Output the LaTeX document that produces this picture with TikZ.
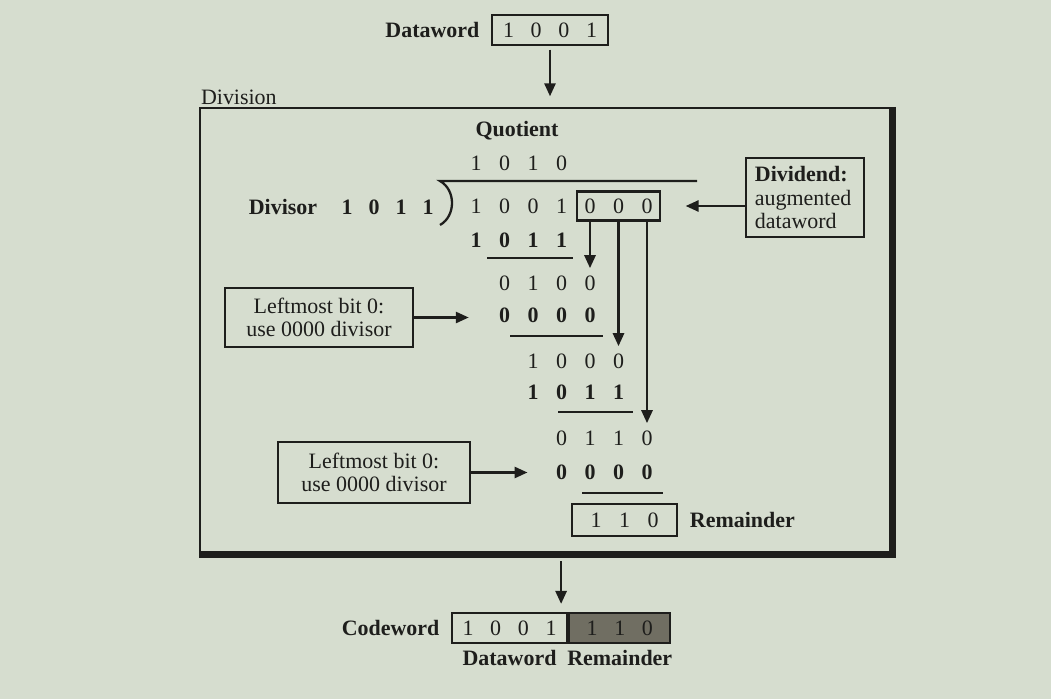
\documentclass[tikz,border=0pt]{standalone}
\usepackage{fontspec}
\setmainfont{Liberation Serif}
\usetikzlibrary{arrows.meta, positioning, calc, fit}
\definecolor{paper}{RGB}{214,221,207}
\definecolor{ink}{RGB}{30,30,28}
\definecolor{remfill}{RGB}{112,110,98}
\newcommand{\bgap}{\hspace{9.5pt}}

\begin{document}
\begin{tikzpicture}[
    x=0.02cm, y=-0.02cm,
    >={Triangle[length=2.6mm, width=2.2mm]},
    every node/.style={text=ink},
    arr/.style={->, draw=ink, line width=1.5pt},
    rule/.style={draw=ink, line width=1.3pt},
    lbl/.style={font=\fontsize{12.5}{13.5}\selectfont},
    blbl/.style={font=\fontsize{12.5}{13.5}\selectfont\bfseries},
    dig/.style={lbl, inner sep=2pt},
    bdig/.style={blbl, inner sep=2pt},
    note/.style={draw=ink, line width=1.3pt, lbl, align=center, inner sep=0pt},
    wordbox/.style={draw=ink, line width=1.3pt, lbl, inner sep=0pt, minimum height=0.6cm},
]
% === paper ===
\fill[paper] (0,0) rectangle (1051,699);
% === Dataword in ===
\node[wordbox, minimum width=2.32cm] (dw) at (550,30) {1\bgap0\bgap0\bgap1};
\node[blbl, left=3pt of dw] (dwlbl) {Dataword};
%
\node[draw=ink, line width=1.3pt, minimum width=13.8cm, minimum height=8.88cm] (div) at (545,330) {};
\draw[draw=ink, line width=3.4pt] ([xshift=1.2pt]div.north east) -- ([xshift=1.2pt, yshift=-1.2pt]div.south east) -- ([yshift=-1.2pt]div.south west);
\node[lbl, anchor=south west, inner sep=1pt] (divlbl) at (div.north west) {Division};
\draw[arr, shorten <=2pt, shorten >=6pt] (dw.south) -- (dw.south |- div.north);
% === Division ===
\node[blbl] (quot) at (517,131) {Quotient};
\foreach \i/\v in {1/1, 2/0, 3/1, 4/0} {
    \node[dig] (q\i) at ({447.5+28.5*\i}, 163) {\v};
}
\node[blbl] (dvsr) at (283,207) {Divisor};
\foreach \i/\v in {1/1, 2/0, 3/1, 4/1} {
    \node[bdig] (ds\i) at ({320+27*\i}, 207) {\v};
}
\draw[rule] (697,181) -- (440,181) .. controls (456,190) and (456,216) .. (440,225);
\foreach \i/\v in {1/1, 2/0, 3/0, 4/1, 5/0, 6/0, 7/0} {
    \node[dig] (dv\i) at ({447.5+28.5*\i}, 206) {\v};
}
\node[draw=ink, line width=1.3pt, fit=(dv5)(dv7), inner xsep=2pt, inner ysep=1.8pt] (aug) {};
%
\foreach \i/\v in {1/1, 2/0, 3/1, 4/1} {
    \node[bdig] (a\i) at ({447.5+28.5*\i}, 240) {\v};
}
\draw[rule] (487,258) -- (573,258);
\foreach \i/\v in {2/0, 3/1, 4/0, 5/0} {
    \node[dig] (b\i) at ({447.5+28.5*\i}, 283) {\v};
}
\foreach \i/\v in {2/0, 3/0, 4/0, 5/0} {
    \node[bdig] (c\i) at ({447.5+28.5*\i}, 315) {\v};
}
\draw[rule] (510,336) -- (603,336);
\foreach \i/\v in {3/1, 4/0, 5/0, 6/0} {
    \node[dig] (d\i) at ({447.5+28.5*\i}, 361) {\v};
}
\foreach \i/\v in {3/1, 4/0, 5/1, 6/1} {
    \node[bdig] (e\i) at ({447.5+28.5*\i}, 392) {\v};
}
\draw[rule] (558,412) -- (633,412);
\foreach \i/\v in {4/0, 5/1, 6/1, 7/0} {
    \node[dig] (f\i) at ({447.5+28.5*\i}, 438) {\v};
}
\foreach \i/\v in {4/0, 5/0, 6/0, 7/0} {
    \node[bdig] (g\i) at ({447.5+28.5*\i}, 472) {\v};
}
\draw[rule] (582,493) -- (663,493);
\foreach \i/\v in {5/1, 6/1, 7/0} {
    \node[dig] (h\i) at ({453.5+28.5*\i}, 520) {\v};
}
\node[draw=ink, line width=1.3pt, fit=(h5)(h7), inner xsep=8.5pt, inner ysep=2.8pt] (rem) {};
\node[blbl, right=3pt of rem] (remlbl) {Remainder};
% === bits brought down ===
\draw[arr, shorten >=2pt] (dv5 |- aug.south) -- (b5.north);
\draw[arr, shorten >=2pt] (dv6 |- aug.south) -- (d6.north);
\draw[arr, shorten >=2pt] (dv7 |- aug.south) -- (f7.north);
% === notes ===
\node[note, anchor=north west, align=left, inner xsep=5pt, inner ysep=4.5pt, text width=2cm] (dnote) at (745,157) {\textbf{Dividend:}\\augmented\\dataword};
\draw[arr, shorten >=14pt] (dnote.west |- aug.east) -- (aug.east);
\node[note, minimum width=3.76cm, minimum height=1.18cm] (lm1) at (319,317.5) {Leftmost bit 0:\\use 0000 divisor};
\draw[arr, shorten >=15pt] (lm1.east) -- (lm1.east -| c2.west);
\node[note, minimum width=3.84cm, minimum height=1.22cm] (lm2) at (374,472.5) {Leftmost bit 0:\\use 0000 divisor};
\draw[arr, shorten >=14pt] (lm2.east) -- (lm2.east -| g4.west);
% === Codeword out ===
\node[wordbox, minimum width=2.3cm] (cwd) at (509.5,628) {1\bgap0\bgap0\bgap1};
\node[wordbox, fill=remfill, minimum width=2.02cm, anchor=west] (cwr) at (cwd.east) {1\bgap1\bgap0};
\node[blbl, left=3pt of cwd] (cwlbl) {Codeword};
\node[blbl, below=0pt of cwd] (cwdlbl) {Dataword};
\node[blbl, below=0pt of cwr] (cwrlbl) {Remainder};
\draw[arr, shorten <=4.5pt, shorten >=4.5pt] ([xshift=-4pt]cwd.north east |- div.south) -- ([xshift=-4pt]cwd.north east);
\end{tikzpicture}
\end{document}
